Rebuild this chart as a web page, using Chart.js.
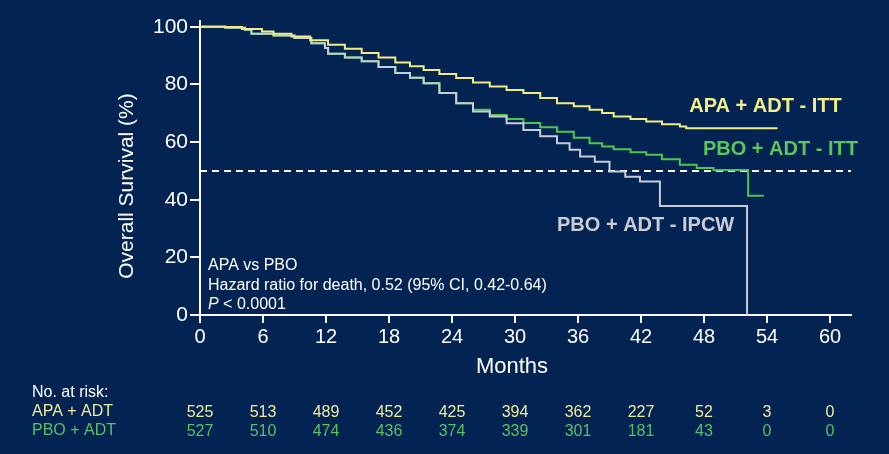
<!DOCTYPE html>
<html>
<head>
<meta charset="utf-8">
<script src="https://cdn.jsdelivr.net/npm/chart.js@4.4.1/dist/chart.umd.min.js"></script>
<style>
  html, body { margin: 0; padding: 0; background: #032452; }
</style>
</head>
<body>
<canvas id="myChart" width="889" height="454"></canvas>
<script>
// Kaplan-Meier curves (months, % alive)
const apaMonths = [0, 2.4, 4, 5.9, 7, 8.7, 10.5, 12.2, 13.8, 15.4, 17, 18.6, 20, 21.3, 22.8, 24.4, 26, 27.6, 29.2, 30.8, 32.4, 34, 35.6, 37.1, 38.3, 39.4, 41, 42.5, 44, 45.7, 46.3, 55]
const apaSurv = [100, 99.9, 99.2, 98.4, 97.6, 96.6, 95.3, 93.8, 92.4, 90.9, 89.3, 87.6, 86.3, 85, 83.6, 82.2, 80.7, 79.3, 78.1, 77, 75.3, 73.5, 72.4, 71.2, 70.1, 68.9, 68, 67.1, 66.2, 65.4, 64.8, 64.8]

const pboMonths = [0, 2.4, 4.3, 4.9, 7, 9, 10.6, 11.9, 12.2, 13.8, 15.4, 17, 18.6, 20, 21.3, 22.8, 24.4, 26, 27.6, 29.2, 30.8, 32.4, 34, 35.6, 37.1, 38.3, 39.4, 41, 42.5, 44, 45.7, 47.3, 48.9, 52.2, 53.7]
const pboSurv = [100, 99.7, 99, 97.6, 97, 96.1, 94.3, 92.6, 90.6, 89.3, 88, 86, 84, 82.3, 80.4, 77, 73.5, 71.2, 69.4, 68, 66.6, 65.1, 63.6, 61.5, 59.6, 58.5, 57.5, 56.5, 55.6, 54, 52.1, 51, 50.3, 41.4, 41.4]

const ipcwMonths = [0, 2.4, 4.3, 4.9, 7, 9, 10.6, 11.9, 12.2, 13.8, 15.4, 17, 18.6, 20, 21.3, 22.8, 24.4, 26, 27.6, 29.2, 30.8, 32.4, 34, 35.2, 36.2, 37.6, 39, 40.5, 41.9, 43.8, 52.1]
const ipcwSurv = [100, 99.7, 99, 97.6, 97, 96.1, 94.3, 92.6, 90.6, 89.3, 88, 86, 84, 82.3, 80.4, 77, 73.5, 70.6, 68.9, 66.5, 64.2, 62, 59.6, 57.3, 55, 53.2, 49.8, 48, 46.3, 37.8, 0]

const medianLine = [50, 50]
const medianMonths = [0, 62]

// number at risk table
const riskMonths = [0, 6, 12, 18, 24, 30, 36, 42, 48, 54, 60]
const apaRisk = [525, 513, 489, 452, 425, 394, 362, 227, 52, 3, 0]
const pboRisk = [527, 510, 474, 436, 374, 339, 301, 181, 43, 0, 0]

const xTicks = [0, 6, 12, 18, 24, 30, 36, 42, 48, 54, 60]
const yTicks = [0, 20, 40, 60, 80, 100]

const FONT = '"Liberation Sans", Arial, sans-serif'
const toPoints = (xs, ys) => xs.map((m, i) => ({x: m, y: ys[i]}))

const textPlugin = {
  id: 'texts',
  afterDraw(chart) {
    const {ctx, scales: {x, y}} = chart
    ctx.save()
    ctx.fillStyle = '#ffffff'
    ctx.textBaseline = 'middle'

    // axis titles
    ctx.save()
    ctx.translate(127, 186)
    ctx.rotate(-Math.PI / 2)
    ctx.textAlign = 'center'
    ctx.font = '21px ' + FONT
    ctx.fillText('Overall Survival (%)', 0, 0)
    ctx.restore()
    ctx.textAlign = 'center'
    ctx.font = '22px ' + FONT
    ctx.fillText('Months', 512, 367)

    // curve labels
    ctx.textAlign = 'left'
    ctx.font = 'bold 20px ' + FONT
    ctx.fillStyle = '#f2ee8a'
    ctx.fillText('APA + ADT - ITT', x.getPixelForValue(46.6), y.getPixelForValue(72.3))
    ctx.fillStyle = '#5ec45e'
    ctx.fillText('PBO + ADT - ITT', x.getPixelForValue(47.9), y.getPixelForValue(57.3))
    ctx.fillStyle = '#c9ccd3'
    ctx.fillText('PBO + ADT - IPCW', x.getPixelForValue(34), y.getPixelForValue(31.2))

    // hazard ratio note
    ctx.fillStyle = '#ffffff'
    ctx.font = '16px ' + FONT
    const ax = x.getPixelForValue(0.76)
    ctx.fillText('APA vs PBO', ax, y.getPixelForValue(17))
    ctx.fillText('Hazard ratio for death, 0.52 (95% CI, 0.42-0.64)', ax, y.getPixelForValue(10.1))
    ctx.font = 'italic 16px ' + FONT
    ctx.fillText('P', ax, y.getPixelForValue(3.5))
    const pw = ctx.measureText('P ').width
    ctx.font = '16px ' + FONT
    ctx.fillText('< 0.0001', ax + pw, y.getPixelForValue(3.5))

    // number at risk
    ctx.font = '16px ' + FONT
    ctx.fillText('No. at risk:', 32, 393)
    ctx.fillStyle = '#eeea9a'
    ctx.fillText('APA + ADT', 32, 412)
    ctx.fillStyle = '#5cbf64'
    ctx.fillText('PBO + ADT', 32, 431)
    ctx.textAlign = 'center'
    riskMonths.forEach((m, i) => {
      const px = x.getPixelForValue(m)
      ctx.fillStyle = '#eeea9a'
      ctx.fillText(String(apaRisk[i]), px, 413)
      ctx.fillStyle = '#5cbf64'
      ctx.fillText(String(pboRisk[i]), px, 432)
    })
    ctx.restore()
  }
}

new Chart(document.getElementById('myChart'), {
  type: 'line',
  data: {
    datasets: [
      {
        label: 'APA + ADT - ITT',
        data: toPoints(apaMonths, apaSurv),
        borderColor: '#f0ec84',
        borderWidth: 2,
        stepped: 'before',
        pointRadius: 0,
        order: 1
      },
      {
        label: 'PBO + ADT - IPCW',
        data: toPoints(ipcwMonths, ipcwSurv),
        borderColor: '#c8ccd6',
        borderWidth: 2,
        stepped: 'before',
        pointRadius: 0,
        order: 2
      },
      {
        label: 'PBO + ADT - ITT',
        data: toPoints(pboMonths, pboSurv),
        borderColor: '#50c450',
        borderWidth: 2,
        stepped: 'before',
        pointRadius: 0,
        order: 3
      },
      {
        label: 'median',
        data: toPoints(medianMonths, medianLine),
        borderColor: '#ffffff',
        borderWidth: 2,
        borderDash: [7, 5],
        pointRadius: 0,
        order: 4
      }
    ]
  },
  options: {
    responsive: false,
    animation: false,
    layout: {
      padding: {left: 0, right: 38, top: 21, bottom: 69}
    },
    plugins: {
      legend: {display: false},
      tooltip: {enabled: false}
    },
    scales: {
      x: {
        type: 'linear',
        min: 0,
        max: 62,
        afterBuildTicks: (s) => { s.ticks = xTicks.map(v => ({value: v})) },
        afterFit: (s) => { s.height = 70 },
        border: {color: '#ffffff', width: 2},
        grid: {display: true, drawOnChartArea: false, drawTicks: true, tickLength: 8, color: '#ffffff', lineWidth: 2},
        ticks: {color: '#ffffff', font: {family: FONT, size: 20}, padding: 2, maxRotation: 0}
      },
      y: {
        min: 0,
        max: 102,
        afterBuildTicks: (s) => { s.ticks = yTicks.map(v => ({value: v})) },
        afterFit: (s) => { s.width = 200 },
        border: {color: '#ffffff', width: 2},
        grid: {display: true, drawOnChartArea: false, drawTicks: true, tickLength: 10, color: '#ffffff', lineWidth: 2},
        ticks: {color: '#ffffff', font: {family: FONT, size: 21}, padding: 2}
      }
    }
  },
  plugins: [textPlugin]
})
</script>
</body>
</html>
